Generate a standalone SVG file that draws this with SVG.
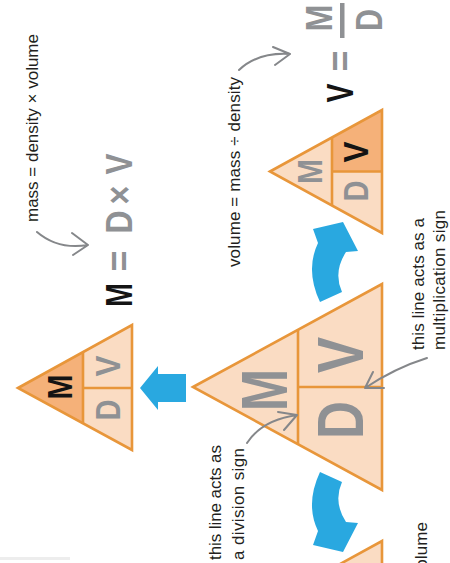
<svg xmlns="http://www.w3.org/2000/svg" width="450" height="563" viewBox="0 0 450 563">
<style>
.lt{fill:#fadcc3}
.dk{fill:#f5b179}
.tri{fill:none;stroke:#e8963a;stroke-width:2.6;stroke-linejoin:miter}
.L{font-family:"Liberation Sans",Arial,sans-serif;font-weight:700;text-anchor:middle}
.g{fill:#8f9194}
.k{fill:#141414}
.t{font-family:"Liberation Sans",Arial,sans-serif;font-size:17px;fill:#231f20}
.blue{fill:#29a8e0}
.ptr{fill:none;stroke:#85878a;stroke-width:2;stroke-linecap:round;stroke-linejoin:round}
</style>
<rect width="450" height="563" fill="#ffffff"/>
<rect x="0" y="557" width="70" height="3" fill="#ededed"/>

<g id="tri-mass">
<polygon class="lt" points="18,388 132,325 132,450"/>
<polygon class="dk" points="18,388 83,352.4 83,423.6"/>
<polygon class="tri" points="18,388 132,325 132,450"/>
<path class="tri" d="M83 352.4V423.6M83 388H132"/>
<text class="L k" font-size="35" textLength="25" lengthAdjust="spacingAndGlyphs" transform="translate(72,387) rotate(-90)">M</text>
<text class="L g" font-size="35" textLength="21" lengthAdjust="spacingAndGlyphs" transform="translate(120,410) rotate(-90)">D</text>
<text class="L g" font-size="35" textLength="21" lengthAdjust="spacingAndGlyphs" transform="translate(120,366) rotate(-90)">V</text>
</g>

<g id="tri-main">
<polygon class="lt" points="193,387 382,284 382,490"/>
<polygon class="tri" points="193,387 382,284 382,490"/>
<path class="tri" d="M298 329.8V444.2M298 387H382"/>
<text class="L g" font-size="64" textLength="42" lengthAdjust="spacingAndGlyphs" transform="translate(287,390) rotate(-90)">M</text>
<text class="L g" font-size="64" textLength="36" lengthAdjust="spacingAndGlyphs" transform="translate(363,355) rotate(-90)">V</text>
<text class="L g" font-size="64" textLength="38" lengthAdjust="spacingAndGlyphs" transform="translate(363,420) rotate(-90)">D</text>
</g>

<g id="tri-volume">
<polygon class="lt" points="270,171.5 382,110 382,233"/>
<polygon class="dk" points="332,137.5 382,110 382,171.5 332,171.5"/>
<polygon class="tri" points="270,171.5 382,110 382,233"/>
<path class="tri" d="M332 137.5V205.5M332 171.5H382"/>
<text class="L g" font-size="35" textLength="25" lengthAdjust="spacingAndGlyphs" transform="translate(322,171.5) rotate(-90)">M</text>
<text class="L k" font-size="35" textLength="21" lengthAdjust="spacingAndGlyphs" transform="translate(368,152) rotate(-90)">V</text>
<text class="L g" font-size="35" textLength="21" lengthAdjust="spacingAndGlyphs" transform="translate(368,191) rotate(-90)">D</text>
</g>

<g id="tri-density">
<polygon class="lt" points="270,602.5 382,541 382,664"/>
<polygon class="dk" points="332,602.5 382,602.5 382,664 332,636.5"/>
<polygon class="tri" points="270,602.5 382,541 382,664"/>
<path class="tri" d="M332 568.5V636.5M332 602.5H382"/>
</g>

<g id="eq-mass">
<text class="L k" font-size="37" textLength="24" lengthAdjust="spacingAndGlyphs" transform="translate(132,295) rotate(-90)">M</text>
<text class="L g" font-size="37" textLength="21" lengthAdjust="spacingAndGlyphs" transform="translate(132,261) rotate(-90)">=</text>
<text class="L g" font-size="37" textLength="23" lengthAdjust="spacingAndGlyphs" transform="translate(132,222) rotate(-90)">D</text>
<text class="L g" font-size="37" textLength="19" lengthAdjust="spacingAndGlyphs" transform="translate(132,195) rotate(-90)">×</text>
<text class="L g" font-size="37" textLength="21" lengthAdjust="spacingAndGlyphs" transform="translate(132,164) rotate(-90)">V</text>
</g>

<g id="eq-volume">
<text class="L k" font-size="37" textLength="19" lengthAdjust="spacingAndGlyphs" transform="translate(353,93) rotate(-90)">V</text>
<text class="L g" font-size="37" textLength="21" lengthAdjust="spacingAndGlyphs" transform="translate(353,61) rotate(-90)">=</text>
<text class="L g" font-size="37" textLength="27" lengthAdjust="spacingAndGlyphs" transform="translate(332,18) rotate(-90)">M</text>
<rect x="340" y="3" width="4.5" height="35" fill="#8f9194"/>
<text class="L g" font-size="37" textLength="22" lengthAdjust="spacingAndGlyphs" transform="translate(382,20) rotate(-90)">D</text>
</g>

<g id="label-mass">
<text class="t" textLength="188" lengthAdjust="spacing" transform="translate(38,222) rotate(-90)">mass = density × volume</text>
</g>
<g id="label-volume">
<text class="t" textLength="190" lengthAdjust="spacing" transform="translate(240,267) rotate(-90)">volume = mass ÷ density</text>
</g>
<g id="label-division">
<text class="t" textLength="115" lengthAdjust="spacing" transform="translate(221,560) rotate(-90)">this line acts as</text>
<text class="t" textLength="112" lengthAdjust="spacing" transform="translate(244,560) rotate(-90)">a division sign</text>
</g>
<g id="label-multiplication">
<text class="t" textLength="132" lengthAdjust="spacing" transform="translate(424,350) rotate(-90)">this line acts as a</text>
<text class="t" textLength="140" lengthAdjust="spacing" transform="translate(445,350) rotate(-90)">multiplication sign</text>
</g>
<g id="label-density">
<text class="t" text-anchor="end" textLength="190" lengthAdjust="spacing" transform="translate(427,522) rotate(-90)">density = mass ÷ volume</text>
</g>

<g id="connectors">
<polygon class="blue" points="140,388 158,366 158,374 186,374 186,402 158,402 158,410"/>
<path class="blue" d="M320 302Q305 270 318 243L313 229L343 222L358 251L346 252Q333 272 342 292Z"/>
<path class="blue" d="M320 472Q305 504 318 531L313 545L343 552L358 523L346 522Q333 502 342 482Z"/>
<path class="ptr" d="M37 232Q58 250 88 245M72 233L88 245L73 255"/>
<path class="ptr" d="M239 70Q258 52 290 54M273 47L290 54L275 65"/>
<path class="ptr" d="M247 443Q262 420 297 415M278 412L297 415L284 430"/>
<path class="ptr" d="M427 358Q395 368 365 388M373 372L365 388L384 388"/>
</g>
</svg>
